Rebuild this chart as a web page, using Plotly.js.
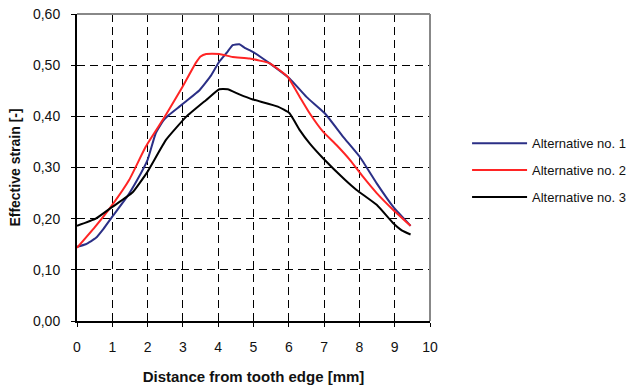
<!DOCTYPE html>
<html><head><meta charset="utf-8">
<script src="https://cdn.plot.ly/plotly-3.0.1.min.js"></script>
<style>html,body{margin:0;padding:0;background:#fff;overflow:hidden}</style>
</head><body>
<div id="chart" style="width:631px;height:387px"></div>
<script>
const seriesNames = ["Alternative no. 1", "Alternative no. 2", "Alternative no. 3"];
const blueX = [0, 0.25, 0.53, 0.75, 1.0, 1.42, 1.7, 2.0, 2.23, 2.45, 2.61, 2.9, 3.1, 3.47, 3.8, 4.03, 4.25, 4.41, 4.6, 4.75, 4.98, 5.45, 6.02, 6.5, 7.02, 7.54, 8.01, 8.49, 8.96, 9.45];
const blueY = [0.145, 0.150, 0.162, 0.180, 0.204, 0.243, 0.275, 0.315, 0.367, 0.392, 0.403, 0.419, 0.430, 0.451, 0.480, 0.507, 0.525, 0.539, 0.541, 0.534, 0.526, 0.504, 0.474, 0.438, 0.406, 0.360, 0.321, 0.269, 0.223, 0.186];
const redX = [0, 0.5, 1.0, 1.48, 1.95, 2.52, 2.99, 3.37, 3.5, 3.66, 4.03, 4.41, 4.89, 5.45, 5.74, 5.97, 6.31, 6.59, 6.97, 7.35, 7.73, 8.1, 8.49, 8.96, 9.45];
const redY = [0.143, 0.183, 0.227, 0.276, 0.341, 0.403, 0.458, 0.505, 0.517, 0.522, 0.522, 0.516, 0.513, 0.504, 0.490, 0.477, 0.438, 0.406, 0.370, 0.344, 0.315, 0.282, 0.250, 0.217, 0.186];
const blackX = [0, 0.53, 1.0, 1.57, 2.0, 2.52, 3.09, 3.66, 4.03, 4.27, 4.6, 4.98, 5.69, 6.02, 6.31, 6.59, 6.97, 7.59, 7.92, 8.49, 8.96, 9.2, 9.45];
const blackY = [0.186, 0.200, 0.223, 0.251, 0.292, 0.354, 0.399, 0.432, 0.453, 0.453, 0.443, 0.433, 0.419, 0.406, 0.373, 0.347, 0.318, 0.276, 0.256, 0.227, 0.191, 0.177, 0.169];
const xTicks = [0,1,2,3,4,5,6,7,8,9,10];
const yTicks = [0, 0.1, 0.2, 0.3, 0.4, 0.5, 0.6];

const mk = (x, y, name, color, g) => ({x, y, name, type:'scatter', mode:'lines',
  line:{color, width:2, shape:'spline', smoothing:0.4}, legendgroup:g});
const data = [
  mk(blueX, blueY, seriesNames[0], '#2B2F86', 'a'),
  mk(redX, redY, seriesNames[1], '#FF2424', 'b'),
  mk(blackX, blackY, seriesNames[2], '#000000', 'c')
];
const gridStyle = {showgrid:true, gridcolor:'#000', griddash:'8px,5px', gridwidth:1};
const layout = {
  width:631, height:387,
  margin:{l:77, r:201, t:14, b:66, pad:0, autoexpand:false},
  paper_bgcolor:'#fff', plot_bgcolor:'#fff',
  separators:', ',
  font:{family:'Liberation Sans, Arial, sans-serif', size:14, color:'#111'},
  showlegend:true,
  legend:{x:1.105, y:0.628, xanchor:'left', yanchor:'top', bgcolor:'rgba(0,0,0,0)',
    font:{size:13, color:'#111'}, tracegroupgap:7, itemwidth:55, borderwidth:0},
  xaxis:Object.assign({range:[0,10], tickvals:xTicks, ticks:'outside', ticklen:4, tickcolor:'#000',
    showline:true, linecolor:'#000', linewidth:2, zeroline:false, fixedrange:true, ticklabelstandoff:8,
    title:{text:'Distance from tooth edge [mm]', font:{size:15, color:'#111', weight:'bold'}, standoff:18},
    tickfont:{size:14}}, gridStyle),
  yaxis:Object.assign({range:[0,0.6], tickvals:yTicks, tickformat:'.2f', ticks:'outside', ticklen:4, tickcolor:'#000',
    showline:true, linecolor:'#000', linewidth:2, zeroline:false, fixedrange:true, ticklabelstandoff:8,
    title:{text:'Effective strain [-]', font:{size:14, color:'#111', weight:'bold'}, standoff:9},
    tickfont:{size:14}}, gridStyle),
  shapes:[
    {type:'line', xref:'paper', yref:'paper', x0:0, x1:1, y0:1, y1:1, line:{color:'#888', width:2}},
    {type:'line', xref:'paper', yref:'paper', x0:1, x1:1, y0:0, y1:1, line:{color:'#888', width:2}}
  ]
};
Plotly.newPlot('chart', data, layout, {displayModeBar:false, staticPlot:true});
</script>
</body></html>
